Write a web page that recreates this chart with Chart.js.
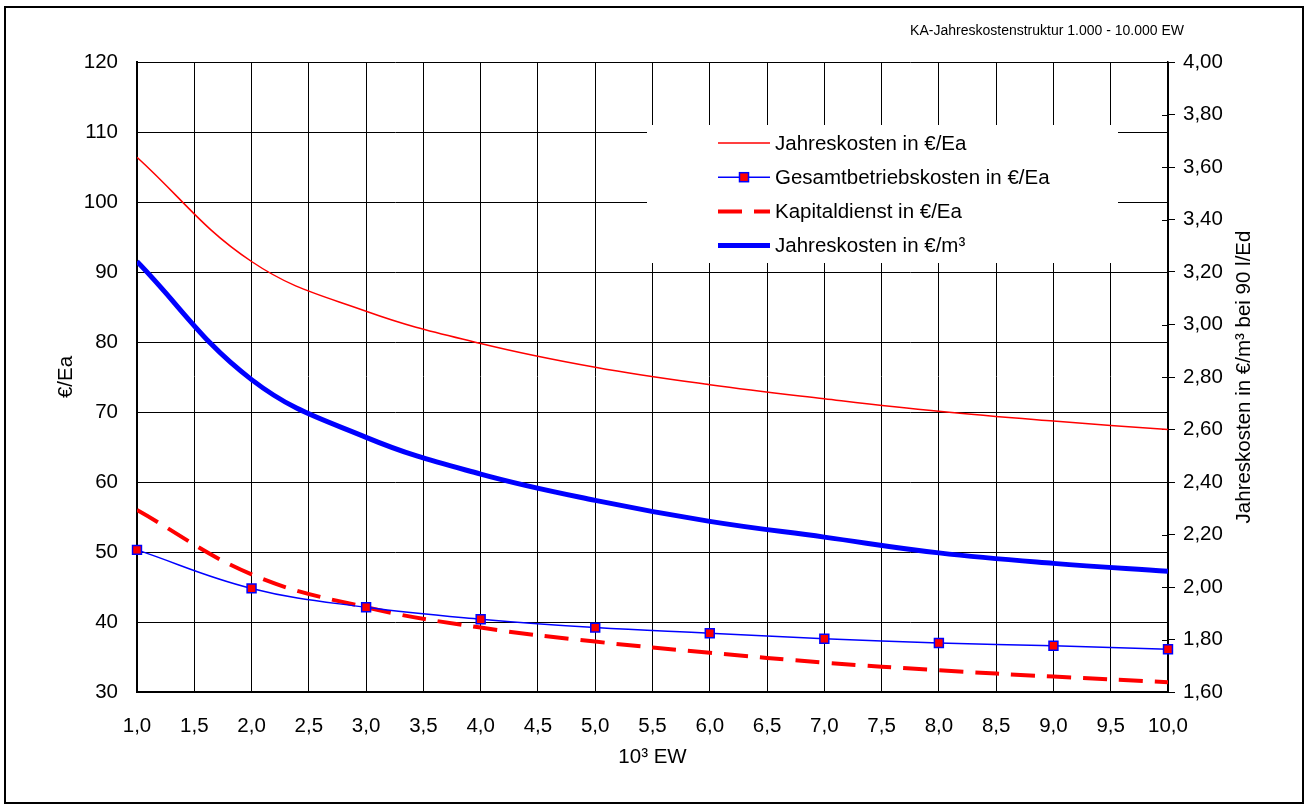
<!DOCTYPE html>
<html lang="de">
<head>
<meta charset="utf-8">
<title>KA-Jahreskostenstruktur</title>
<script src="https://cdn.jsdelivr.net/npm/chart.js@4.4.1/dist/chart.umd.min.js"></script>
<style>
  html, body { margin: 0; padding: 0; background: #fff; }
  #wrap { position: relative; width: 1306px; height: 807px; }
</style>
</head>
<body>
<div id="wrap"><canvas id="kostenChart"></canvas></div>
<script>
// Ausbaugröße in 10³ EW
const einwohner = [1, 2, 3, 4, 5, 6, 7, 8, 9, 10];

// Kosten in €/(E·a)
const jahreskostenEa = [106.4, 91.5, 84.4, 79.8, 76.4, 73.9, 71.9, 70.1, 68.7, 67.5];
const betriebskostenEa = [50.3, 44.8, 42.1, 40.4, 39.2, 38.4, 37.6, 37.0, 36.6, 36.1];
const kapitaldienstEa = [56.0, 46.8, 42.1, 39.2, 37.2, 35.6, 34.2, 33.1, 32.2, 31.4];

// Jahreskosten in €/m³ bei 90 l/(E·d)
const jahreskostenM3 = [3.24, 2.79, 2.57, 2.43, 2.33, 2.25, 2.19, 2.13, 2.09, 2.06];

const xTicks = { min: 1, max: 10, step: 0.5 };
const yLeftTicks = { min: 30, max: 120, step: 10 };
const yRightTicks = { min: 1.6, max: 4.0, step: 0.2 };

const fontFamily = '"Liberation Sans", Arial, sans-serif';
const toPoints = values => values.map((v, i) => ({ x: einwohner[i], y: v }));
const komma = (v, d) => v.toFixed(d).replace('.', ',');

// white page with black frame, header text and the right axis title
const framePlugin = {
    id: 'frame',
    beforeDraw(chart) {
        const c = chart.ctx;
        c.save();
        c.fillStyle = '#fff';
        c.fillRect(0, 0, chart.width, chart.height);
        c.strokeStyle = '#000';
        c.lineWidth = 2;
        c.strokeRect(5, 7, 1298, 796);
        c.fillStyle = '#000';
        c.font = '14px ' + fontFamily;
        c.textAlign = 'right';
        c.textBaseline = 'middle';
        c.fillText('KA-Jahreskostenstruktur 1.000 - 10.000 EW', 1184, 31);

        // right title reads bottom to top like the left one
        const a = chart.chartArea;
        c.translate(1244, (a.top + a.bottom) / 2);
        c.rotate(-Math.PI / 2);
        c.font = '20.5px ' + fontFamily;
        c.textAlign = 'center';
        c.fillText('Jahreskosten in €/m³ bei 90 l/Ed', 0, 0);
        c.restore();
    }
};

// legend box inside the plot area, covers the grid but not the lines
const innerLegend = {
    id: 'innerLegend',
    beforeDatasetsDraw(chart) {
        const c = chart.ctx;
        const a = chart.chartArea;
        const boxX = a.left + 510, boxY = a.top + 63;
        c.save();
        c.fillStyle = '#fff';
        c.fillRect(boxX, boxY, 471, 138);

        // inward half of the right axis ticks
        const y1 = chart.scales.y1;
        c.strokeStyle = '#000';
        c.lineWidth = 1;
        y1.ticks.forEach(t => {
            const py = Math.round(y1.getPixelForValue(t.value)) + 0.5;
            c.beginPath();
            c.moveTo(a.right - 6, py);
            c.lineTo(a.right, py);
            c.stroke();
        });

        c.font = '20.5px ' + fontFamily;
        c.textBaseline = 'middle';
        c.textAlign = 'left';
        chart.data.datasets.forEach((ds, i) => {
            const ry = boxY + 18 + i * 34.2;
            const x0 = boxX + 71, x1 = boxX + 123;
            c.save();
            c.strokeStyle = ds.borderColor;
            c.lineWidth = ds.borderWidth;
            c.setLineDash(ds.borderDash || []);
            c.beginPath();
            c.moveTo(x0, ry);
            c.lineTo(x1, ry);
            c.stroke();
            c.restore();
            if (ds.pointRadius > 0) {
                const s = 9;
                c.fillStyle = ds.pointBackgroundColor;
                c.strokeStyle = ds.pointBorderColor;
                c.lineWidth = ds.pointBorderWidth;
                c.fillRect((x0 + x1) / 2 - s / 2, ry - s / 2, s, s);
                c.strokeRect((x0 + x1) / 2 - s / 2, ry - s / 2, s, s);
            }
            c.fillStyle = '#000';
            c.fillText(ds.label, x1 + 5, ry + 1);
        });
        c.restore();
    }
};

const ctx = document.getElementById('kostenChart').getContext('2d');
const kostenChart = new Chart(ctx, {
    type: 'line',
    data: {
        datasets: [
            {
                label: 'Jahreskosten in €/Ea',
                data: toPoints(jahreskostenEa),
                yAxisID: 'y',
                borderColor: '#ff0000',
                borderWidth: 1.5,
                pointRadius: 0,
                tension: 0.4,
                fill: false
            },
            {
                label: 'Gesamtbetriebskosten in €/Ea',
                data: toPoints(betriebskostenEa),
                yAxisID: 'y',
                borderColor: '#0000ff',
                borderWidth: 1.5,
                pointStyle: 'rect',
                pointRadius: 6.3,
                pointBackgroundColor: '#ff0000',
                pointBorderColor: '#0000ff',
                pointBorderWidth: 1.5,
                tension: 0.4,
                clip: false,
                fill: false
            },
            {
                label: 'Kapitaldienst in €/Ea',
                data: toPoints(kapitaldienstEa),
                yAxisID: 'y',
                borderColor: '#ff0000',
                borderWidth: 4,
                borderDash: [24, 12],
                pointRadius: 0,
                tension: 0.4,
                fill: false
            },
            {
                label: 'Jahreskosten in €/m³',
                data: toPoints(jahreskostenM3),
                yAxisID: 'y1',
                borderColor: '#0000ff',
                borderWidth: 5,
                pointRadius: 0,
                tension: 0.4,
                fill: false
            }
        ]
    },
    options: {
        responsive: true,
        maintainAspectRatio: false,
        animation: false,
        layout: { padding: { top: 62, left: 0, right: 0, bottom: 0 } },
        plugins: {
            legend: { display: false },
            tooltip: { enabled: false }
        },
        scales: {
            x: {
                type: 'linear',
                min: xTicks.min,
                max: xTicks.max,
                afterFit(scale) { scale.height = 115; },
                ticks: {
                    stepSize: xTicks.step,
                    color: '#000',
                    padding: 22,
                    maxRotation: 0,
                    font: { family: fontFamily, size: 20.5 },
                    callback: v => komma(v, 1)
                },
                grid: { color: '#000', lineWidth: 1, drawTicks: false },
                border: { color: '#000', width: 2 },
                title: {
                    display: true,
                    text: '10³ EW',
                    color: '#000',
                    font: { family: fontFamily, size: 20.5 },
                    padding: { top: 0, bottom: 37 }
                }
            },
            y: {
                position: 'left',
                min: yLeftTicks.min,
                max: yLeftTicks.max,
                afterFit(scale) { scale.width = 137; },
                ticks: {
                    stepSize: yLeftTicks.step,
                    color: '#000',
                    padding: 19,
                    font: { family: fontFamily, size: 20.5 }
                },
                grid: { color: '#000', lineWidth: 1, drawTicks: false },
                border: { color: '#000', width: 2 },
                title: {
                    display: true,
                    text: '€/Ea',
                    color: '#000',
                    font: { family: fontFamily, size: 20.5 },
                    padding: { top: 54, bottom: 0 }
                }
            },
            y1: {
                position: 'right',
                min: yRightTicks.min,
                max: yRightTicks.max,
                afterFit(scale) { scale.width = 138; },
                ticks: {
                    stepSize: yRightTicks.step,
                    color: '#000',
                    padding: 8,
                    font: { family: fontFamily, size: 20.5 },
                    callback: v => komma(v, 2)
                },
                grid: { drawOnChartArea: false, color: '#000', lineWidth: 1, tickLength: 7 },
                border: { color: '#000', width: 1.5 }
            }
        }
    },
    plugins: [framePlugin, innerLegend]
});
</script>
</body>
</html>
